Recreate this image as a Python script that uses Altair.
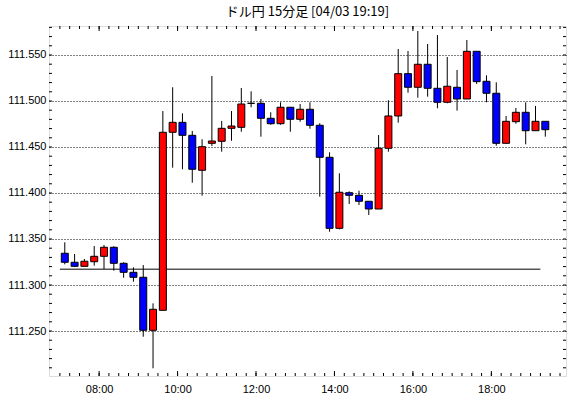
import altair as alt
import pandas as pd

# Candle start times: 07:00 .. 19:15, every 15 minutes
start_hour = 7.0
n = 50
opens = [111.3345, 111.3247, 111.3203, 111.3253, 111.3312, 111.3410, 111.3236, 111.3138, 111.3084, 111.2508,
         111.2725, 111.4660, 111.4768, 111.4627, 111.4247, 111.4540, 111.4562, 111.4703, 111.4714, 111.4975,
         111.4975, 111.4812, 111.4753, 111.4932, 111.4801, 111.4910, 111.4736, 111.4388, 111.3616, 111.4003,
         111.3975, 111.3910, 111.3826, 111.4486, 111.4837, 111.5297, 111.5149, 111.5399, 111.5138, 111.4986,
         111.5149, 111.5022, 111.5540, 111.5214, 111.5084, 111.4540, 111.4775, 111.4877, 111.4677, 111.4779]
highs = [111.3464, 111.3337, 111.3283, 111.3424, 111.3435, 111.3421, 111.3247, 111.3192, 111.3217, 111.2801,
         111.4891, 111.5149, 111.4866, 111.4674, 111.4584, 111.5272, 111.4783, 111.4891, 111.5141, 111.5105,
         111.5022, 111.4877, 111.4986, 111.4932, 111.4967, 111.4986, 111.4758, 111.4442, 111.4214, 111.4018,
         111.4025, 111.3910, 111.4630, 111.5008, 111.5565, 111.5543, 111.5761, 111.5620, 111.5717, 111.5478,
         111.5337, 111.5663, 111.5540, 111.5279, 111.5203, 111.4837, 111.4924, 111.4986, 111.4946, 111.4779]
lows = [111.3225, 111.3198, 111.3200, 111.3210, 111.3174, 111.3156, 111.3079, 111.3036, 111.2438, 111.2095,
        111.2725, 111.4275, 111.4258, 111.4112, 111.3971, 111.4511, 111.4449, 111.4568, 111.4666, 111.4932,
        111.4612, 111.4742, 111.4742, 111.4666, 111.4775, 111.4699, 111.3960, 111.3579, 111.3605, 111.3880,
        111.3870, 111.3761, 111.3826, 111.4449, 111.4764, 111.5090, 111.5036, 111.5047, 111.4921, 111.4975,
        111.4895, 111.5022, 111.5185, 111.4986, 111.4514, 111.4540, 111.4753, 111.4529, 111.4677, 111.4612]
closes = [111.3247, 111.3203, 111.3258, 111.3312, 111.3410, 111.3236, 111.3138, 111.3084, 111.2508, 111.2736,
          111.4660, 111.4768, 111.4627, 111.4258, 111.4503, 111.4565, 111.4703, 111.4728, 111.4967, 111.4975,
          111.4812, 111.4753, 111.4932, 111.4801, 111.4910, 111.4736, 111.4388, 111.3616, 111.4008, 111.3975,
          111.3910, 111.3826, 111.4486, 111.4837, 111.5297, 111.5149, 111.5399, 111.5138, 111.4986, 111.5160,
          111.5022, 111.5540, 111.5210, 111.5084, 111.4540, 111.4779, 111.4877, 111.4677, 111.4779, 111.4688]

ref_level = 111.3172
ref_start, ref_end = 7.0, 19.25

title_text = "ドル円 15分足 [04/03 19:19]"
x_label_hours = [8, 10, 12, 14, 16, 18]
y_label_values = [111.25, 111.30, 111.35, 111.40, 111.45, 111.50, 111.55]

W, H = 517, 350
x_dom = [6.85, 19.775]
y_dom = [111.2011, 111.5815]

df = pd.DataFrame({
    "t": [start_hour + 0.25 * i + 0.125 for i in range(n)],
    "open": opens, "high": highs, "low": lows, "close": closes,
})
df["dir"] = ["up" if c >= o else "down" for o, c in zip(opens, closes)]

xs = alt.Scale(domain=x_dom, nice=False, zero=False)
ys = alt.Scale(domain=y_dom, nice=False, zero=False)

lab_font = "Liberation Sans"
x_axis = alt.Axis(values=x_label_hours, title=None, grid=False, domain=False, tickSize=0,
                  labelExpr="(datum.value < 10 ? '0' : '') + datum.value + ':00'",
                  labelFont=lab_font, labelFontSize=11, labelColor="black", labelPadding=7)
y_axis = alt.Axis(values=y_label_values, title=None, grid=True, gridDash=[1, 2], gridColor="black",
                  gridOpacity=1, gridWidth=1, domain=False, tickSize=0, format=".3f",
                  labelFont=lab_font, labelFontSize=11, labelColor="black", labelPadding=3)

base = alt.Chart(df)
wicks = base.mark_rule(color="black", strokeWidth=1).encode(
    x=alt.X("t:Q", scale=xs, axis=x_axis),
    y=alt.Y("low:Q", scale=ys, axis=y_axis),
    y2="high:Q",
)
bodies = base.mark_bar(size=7, stroke="black", strokeWidth=1).encode(
    x=alt.X("t:Q", scale=xs, axis=x_axis),
    y=alt.Y("open:Q", scale=ys, axis=y_axis),
    y2="close:Q",
    color=alt.Color("dir:N", scale=alt.Scale(domain=["up", "down"], range=["#ff0000", "#0000ff"]), legend=None),
)

ref = alt.Chart(pd.DataFrame({"a": [ref_start], "b": [ref_end], "v": [ref_level]})).mark_rule(
    color="black", strokeWidth=1).encode(
    x=alt.X("a:Q", scale=xs, axis=x_axis), x2="b:Q",
    y=alt.Y("v:Q", scale=ys, axis=y_axis),
)

# inward tick marks on the frame
minor_x = pd.DataFrame({"t": [7.0 + 0.25 * k for k in range(52)]})
major_x = pd.DataFrame({"t": x_label_hours})
minor_y = pd.DataFrame({"v": [round(111.21 + 0.01 * k, 2) for k in range(38)]})

def xtick(data, y0, y1):
    return alt.Chart(data).mark_rule(color="black", strokeWidth=1).encode(
        x=alt.X("t:Q", scale=xs, axis=x_axis), y=alt.value(y0), y2=alt.value(y1))

def ytick(data, x0, x1):
    return alt.Chart(data).mark_rule(color="black", strokeWidth=1).encode(
        y=alt.Y("v:Q", scale=ys, axis=y_axis), x=alt.value(x0), x2=alt.value(x1))

ticks = [
    xtick(minor_x, H, H - 3), xtick(minor_x, 0, 3),
    xtick(major_x, H, H - 5), xtick(major_x, 0, 5),
    ytick(minor_y, 0, 3), ytick(minor_y, W, W - 3),
]

chart = alt.layer(*ticks, ref, wicks, bodies).properties(
    width=W, height=H,
    title=alt.TitleParams(text=title_text, font="Noto Sans CJK JP", fontSize=13, fontWeight="normal",
                          color="black", anchor="middle", offset=7),
    padding={"left": 49, "top": 26, "right": 4, "bottom": 22},
    autosize=alt.AutoSizeParams(type="none"),
).configure_view(stroke="black", strokeWidth=1).configure(background="white")

chart.save("out.html", embed_options={"renderer": "svg", "actions": False})
